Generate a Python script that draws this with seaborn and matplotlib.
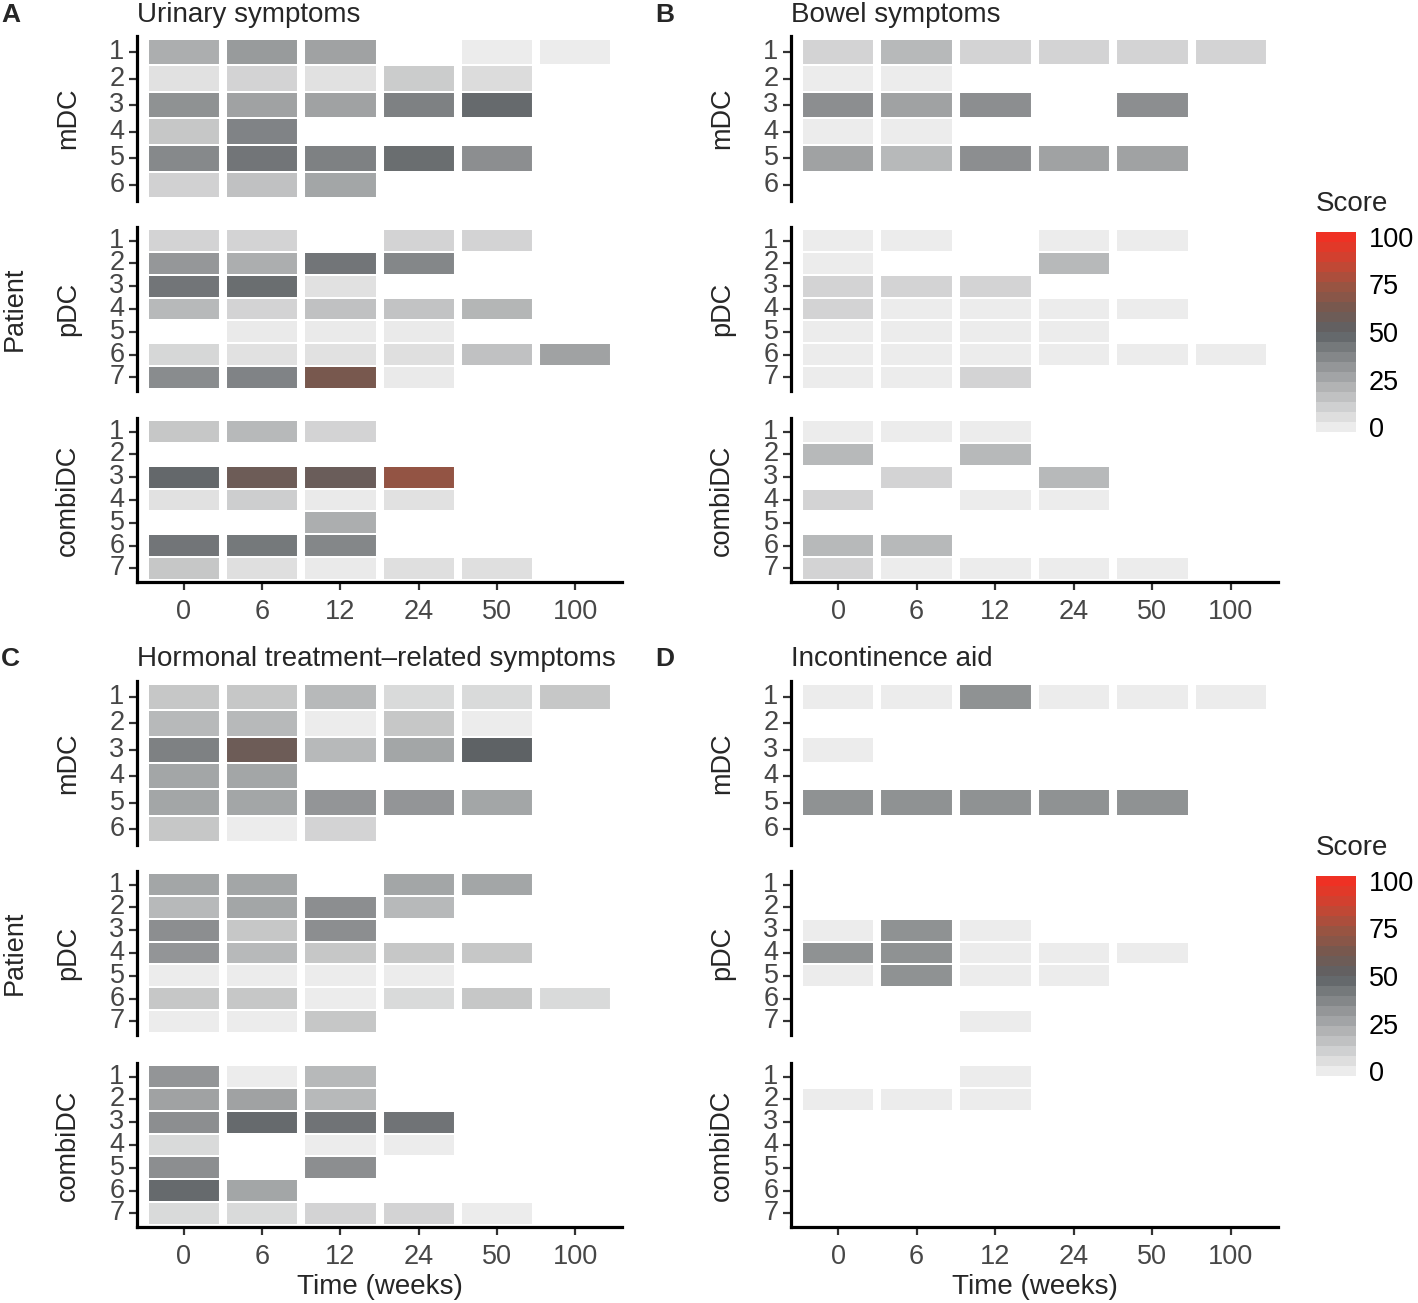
import numpy as np
import pandas as pd
import seaborn as sns
import matplotlib.pyplot as plt
from matplotlib.colors import LinearSegmentedColormap, Normalize
from matplotlib.cm import ScalarMappable

nan = np.nan
times = ["0", "6", "12", "24", "50", "100"]
groups = ["mDC", "pDC", "combiDC"]

# Urinary symptoms (A)
urinary_mdc = [
    [23, 30, 27, nan, 0, 0],
    [4, 9, 4, 12, 6, nan],
    [33, 27, 27, 39, 47, nan],
    [14, 38, nan, nan, nan, nan],
    [36, 43, 39, 46, 34, nan],
    [10, 16, 26, nan, nan, nan],
]
urinary_pdc = [
    [9, 9, nan, 9, 9, nan],
    [31, 23, 43, 37, nan, nan],
    [43, 46, 4, nan, nan, nan],
    [19, 9, 16, 15, 20, nan],
    [nan, 1, 1, 1, nan, nan],
    [8, 4, 4, 5, 16, 27],
    [35, 38, 63, 1, nan, nan],
]
urinary_combidc = [
    [14, 19, 9, nan, nan, nan],
    [nan, nan, nan, nan, nan, nan],
    [48, 58, 56, 72, nan, nan],
    [4, 11, 1, 4, nan, nan],
    [nan, nan, 23, nan, nan, nan],
    [43, 42, 37, nan, nan, nan],
    [14, 5, 1, 5, 5, nan],
]

# Bowel symptoms (B)
bowel_mdc = [
    [9, 19, 9, 9, 9, 9],
    [0, 0, nan, nan, nan, nan],
    [34, 27, 34, nan, 34, nan],
    [0, 0, nan, nan, nan, nan],
    [27, 19, 34, 27, 27, nan],
    [nan, nan, nan, nan, nan, nan],
]
bowel_pdc = [
    [0, 0, nan, 0, 0, nan],
    [0, nan, nan, 19, nan, nan],
    [9, 9, 9, nan, nan, nan],
    [9, 0, 0, 0, 0, nan],
    [0, 0, 0, 0, nan, nan],
    [0, 0, 0, 0, 0, 0],
    [0, 0, 9, nan, nan, nan],
]
bowel_combidc = [
    [0, 0, 0, nan, nan, nan],
    [19, nan, 19, nan, nan, nan],
    [nan, 9, nan, 19, nan, nan],
    [9, nan, 0, 0, nan, nan],
    [nan, nan, nan, nan, nan, nan],
    [19, 19, nan, nan, nan, nan],
    [9, 0, 0, 0, 0, nan],
]

# Hormonal treatment-related symptoms (C)
hormonal_mdc = [
    [14, 14, 19, 7, 7, 14],
    [19, 19, 0, 14, 0, nan],
    [39, 58, 19, 26, 50, nan],
    [26, 26, nan, nan, nan, nan],
    [26, 26, 32, 32, 26, nan],
    [14, 0, 9, nan, nan, nan],
]
hormonal_pdc = [
    [26, 26, nan, 26, 26, nan],
    [19, 26, 34, 19, nan, nan],
    [34, 14, 34, nan, nan, nan],
    [32, 19, 14, 14, 14, nan],
    [0, 0, 0, 0, nan, nan],
    [14, 14, 0, 7, 14, 7],
    [0, 0, 14, nan, nan, nan],
]
hormonal_combidc = [
    [32, 0, 19, nan, nan, nan],
    [27, 27, 19, nan, nan, nan],
    [34, 47, 44, 44, nan, nan],
    [7, nan, 0, 0, nan, nan],
    [34, nan, 34, nan, nan, nan],
    [47, 26, nan, nan, nan, nan],
    [7, 7, 9, 9, 0, nan],
]

# Incontinence aid (D)
aid_mdc = [
    [0, 0, 33, 0, 0, 0],
    [nan, nan, nan, nan, nan, nan],
    [0, nan, nan, nan, nan, nan],
    [nan, nan, nan, nan, nan, nan],
    [33, 33, 33, 33, 33, nan],
    [nan, nan, nan, nan, nan, nan],
]
aid_pdc = [
    [nan, nan, nan, nan, nan, nan],
    [nan, nan, nan, nan, nan, nan],
    [0, 33, 0, nan, nan, nan],
    [33, 33, 0, 0, 0, nan],
    [0, 33, 0, 0, nan, nan],
    [nan, nan, nan, nan, nan, nan],
    [nan, nan, 0, nan, nan, nan],
]
aid_combidc = [
    [nan, nan, 0, nan, nan, nan],
    [0, 0, 0, nan, nan, nan],
    [nan, nan, nan, nan, nan, nan],
    [nan, nan, nan, nan, nan, nan],
    [nan, nan, nan, nan, nan, nan],
    [nan, nan, nan, nan, nan, nan],
    [nan, nan, nan, nan, nan, nan],
]

sns.set_style("white")
plt.rcParams['font.family'] = ['Liberation Sans', 'DejaVu Sans']

score_cmap = LinearSegmentedColormap.from_list("score", [
    (0.0, "#ececec"), (0.25, "#a6a8a9"), (0.5, "#5e6265"),
    (0.625, "#76584f"), (0.75, "#9c5341"), (0.875, "#cc4431"), (1.0, "#ef3124"),
])
norm = Normalize(0, 100)

W, H = 1418, 1303
fig = plt.figure(figsize=(W / 100, H / 100), dpi=100)
FS = 19.5
TICK_COL = "#474747"


def box(x0, x1, y0, y1):
    return [x0 / W, 1 - y1 / H, (x1 - x0) / W, (y1 - y0) / H]


def draw_facet(ax, data, bottom):
    n = len(data)
    df = pd.DataFrame(data, index=range(1, n + 1), columns=times)
    sns.heatmap(df, ax=ax, cmap=score_cmap, vmin=0, vmax=100, cbar=False,
                linewidths=1.2, linecolor="white")
    # gaps between the time columns
    for xv in range(len(times) + 1):
        ax.axvline(xv, color="white", lw=5.8)
    ax.set_xlim(-0.1, len(times) + 0.1)
    ax.set_ylim(n + 0.1, -0.1)
    ax.set_xlabel("")
    ax.set_ylabel("")
    ax.spines['left'].set_visible(True)
    ax.spines['left'].set_linewidth(2.3)
    ax.spines['left'].set_color("black")
    ax.tick_params(axis='y', left=True, length=6, width=1.6, color="#333333",
                   labelsize=FS, labelcolor=TICK_COL, pad=3, rotation=0)
    if bottom:
        ax.spines['bottom'].set_visible(True)
        ax.spines['bottom'].set_linewidth(2.3)
        ax.spines['bottom'].set_color("black")
        ax.tick_params(axis='x', bottom=True, length=6, width=1.6, color="#333333",
                       labelsize=FS, labelcolor=TICK_COL, pad=6, rotation=0)
    else:
        ax.tick_params(axis='x', bottom=False, labelbottom=False)


def draw_panel(x0, x1, rows, title_y, sets, title, letter, patient, time_label):
    for i, (data, grp) in enumerate(zip(sets, groups)):
        y0, y1 = rows[i]
        ax = fig.add_axes(box(x0, x1, y0, y1))
        draw_facet(ax, data, bottom=(i == 2))
        fig.text((x0 - 69) / W, 1 - (y0 + y1) / 2 / H, grp, rotation=90,
                 ha="center", va="center", fontsize=FS)
    fig.text(x0 / W, 1 - title_y / H, title, ha="left", va="center", fontsize=20)
    fig.text((x0 - 136) / W, 1 - title_y / H, letter, ha="left", va="center",
             fontsize=19, fontweight="bold")
    if patient:
        fig.text(15 / W, 1 - (rows[1][0] + rows[1][1]) / 2 / H, "Patient",
                 rotation=90, ha="center", va="center", fontsize=FS)
    if time_label:
        fig.text((x0 + x1) / 2 / W, 1 - 1287 / H, "Time (weeks)",
                 ha="center", va="center", fontsize=20)


def draw_cbar(top):
    cax = fig.add_axes(box(1316, 1356, top, top + 200))
    centers = np.linspace(0, 100, 20)
    half = (centers[1] - centers[0]) / 2
    edges = np.concatenate([centers - half, [centers[-1] + half]])
    cb = fig.colorbar(ScalarMappable(norm=norm, cmap=score_cmap), cax=cax,
                      boundaries=edges, values=centers, ticks=[0, 25, 50, 75, 100])
    cb.outline.set_visible(False)
    cax.tick_params(axis='y', direction='in', length=8, width=1.4, color="white",
                    left=True, right=True, labelsize=FS, labelcolor="black", pad=9)
    fig.text(1316 / W, 1 - (top - 28) / H, "Score", ha="left", va="center", fontsize=20)


top_rows = [(36, 201), (227, 391), (418, 582)]
bot_rows = [(681, 845), (871, 1035), (1063, 1227)]

draw_panel(137, 622, top_rows, 15, [urinary_mdc, urinary_pdc, urinary_combidc],
           "Urinary symptoms", "A", True, False)
draw_panel(791, 1278, top_rows, 15, [bowel_mdc, bowel_pdc, bowel_combidc],
           "Bowel symptoms", "B", False, False)
draw_panel(137, 622, bot_rows, 659, [hormonal_mdc, hormonal_pdc, hormonal_combidc],
           "Hormonal treatment\u2013related symptoms", "C", True, True)
draw_panel(791, 1278, bot_rows, 659, [aid_mdc, aid_pdc, aid_combidc],
           "Incontinence aid", "D", False, True)

draw_cbar(232)
draw_cbar(876)

fig.savefig("out.png", dpi=100)
